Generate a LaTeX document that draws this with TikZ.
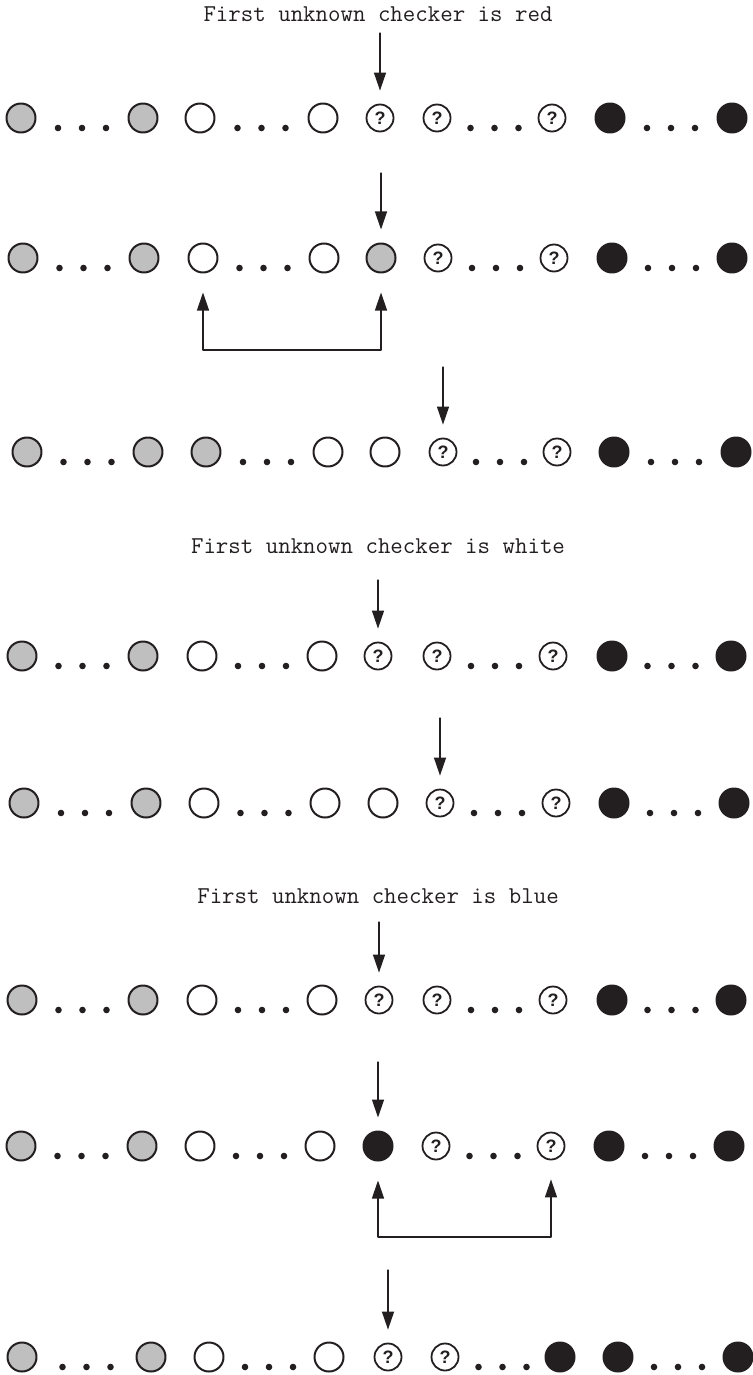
\documentclass[tikz,border=0pt]{standalone}
\usepackage{fontspec}
\newfontfamily\qfont{Liberation Sans}
\usetikzlibrary{arrows.meta,calc}

\definecolor{redchk}{gray}{0.75}
\definecolor{bluechk}{RGB}{35,31,32}

\tikzset{
  chk/.style={circle,draw=bluechk,line width=1pt,minimum size=14.5pt,inner sep=0pt},
  redc/.style={chk,fill=redchk},
  whitec/.style={chk,fill=white},
  bluec/.style={chk,fill=bluechk},
  unkc/.style={chk,minimum size=13.5pt,line width=0.9pt,fill=white,text=bluechk,
    font=\qfont\bfseries\fontsize{9}{9}\selectfont,execute at begin node={?}},
  ptr/.style={-{Triangle[length=9pt,width=6pt]},line width=0.65pt,draw=bluechk,shorten >=6.5pt},
  swapline/.style={{Triangle[length=9pt,width=6pt]}-{Triangle[length=9pt,width=6pt]},
    line width=0.65pt,draw=bluechk,shorten <=9.5pt,shorten >=9.5pt},
  caption/.style={anchor=base,text=bluechk,font=\ttfamily\fontsize{12.1}{14}\selectfont},
}

\begin{document}
\begin{tikzpicture}[x=0.5pt,y=-0.5pt,line cap=round,line join=round]
\useasboundingbox (0,0) rectangle (753,1375);

% captions
\node[caption] (cap1) at (378,22) {First unknown checker is red};
\node[caption] (cap2) at (378,553) {First unknown checker is white};
\node[caption] (cap3) at (378,903) {First unknown checker is blue};

% red case
\foreach \x/\k [count=\i] in {21/redc,143/redc,200/whitec,323/whitec,380/unkc,437/unkc,552/unkc,610/bluec,732/bluec}
  \node[\k] (r1c\i) at (\x,118) {};
\foreach \x/\k [count=\i] in {23/redc,144/redc,203/whitec,324/whitec,381/redc,438/unkc,554/unkc,612/bluec,732/bluec}
  \node[\k] (r2c\i) at (\x,258) {};
\foreach \x/\k [count=\i] in {27/redc,148/redc,206/redc,328/whitec,385/whitec,443/unkc,557/unkc,614/bluec,736/bluec}
  \node[\k] (r3c\i) at (\x,452) {};

% white case
\foreach \x/\k [count=\i] in {22/redc,143/redc,202/whitec,322/whitec,378/unkc,437/unkc,553/unkc,612/bluec,731/bluec}
  \node[\k] (r4c\i) at (\x,656) {};
\foreach \x/\k [count=\i] in {24/redc,146/redc,204/whitec,325/whitec,383/whitec,440/unkc,556/unkc,614/bluec,734/bluec}
  \node[\k] (r5c\i) at (\x,803) {};

% blue case
\foreach \x/\k [count=\i] in {22/redc,143/redc,202/whitec,322/whitec,379/unkc,437/unkc,553/unkc,612/bluec,731/bluec}
  \node[\k] (r6c\i) at (\x,1000) {};
\foreach \x/\k [count=\i] in {21/redc,142/redc,200/whitec,320/whitec,378/bluec,436/unkc,551/unkc,609/bluec,729/bluec}
  \node[\k] (r7c\i) at (\x,1146) {};
\foreach \x/\k [count=\i] in {22/redc,151/redc,209/whitec,329/whitec,388/unkc,445/unkc,560/bluec,618/bluec,738/bluec}
  \node[\k] (r8c\i) at (\x,1357) {};

% dots between runs
\foreach \r in {1,...,8}
  \foreach \a/\b in {1/2,3/4,6/7,8/9}{
    \coordinate (m\r\a) at ($(r\r c\a)!0.5!(r\r c\b)$);
    \foreach \d in {-24,0,24}
      \fill[bluechk] ([shift={(\d,10)}]m\r\a) circle (1.65pt);
  }

% pointers
\foreach \r/\c/\x/\t in {1/5/380/33,2/5/381/173,3/6/443/367,4/5/378/580,5/6/440/718,6/5/379/922,7/5/378/1062,8/5/388/1270}{
  \coordinate (top\r) at (\x,\t);
  \draw[ptr] (top\r) -- (r\r c\c);
}

% swaps
\coordinate (low2) at (294,350);
\draw[swapline] (r2c3) |- (low2) -| (r2c5);
\coordinate (low7) at (465,1237);
\draw[swapline] (r7c5) |- (low7) -| (r7c7);
\end{tikzpicture}
\end{document}
